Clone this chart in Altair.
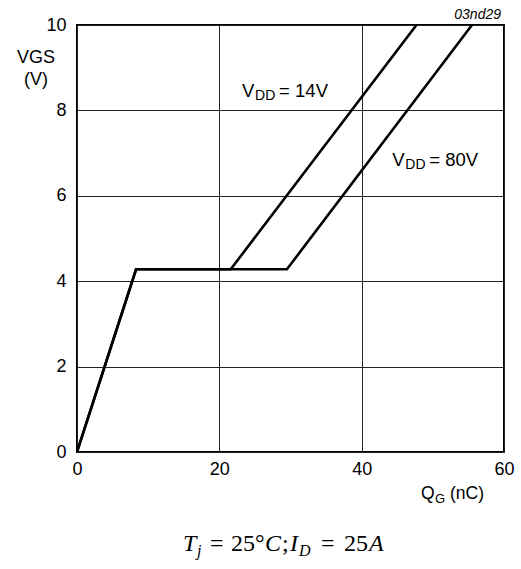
import altair as alt
import pandas as pd

# ---- data ----
qg_14 = [0, 8.3, 21.6, 47.7]
vgs_14 = [0, 4.28, 4.28, 10]
qg_80 = [0, 8.3, 29.5, 55.5]
vgs_80 = [0, 4.28, 4.28, 10]
series_names = ["VDD = 14V", "VDD = 80V"]
x_ticks = [0, 20, 40, 60]
y_ticks = [0, 2, 4, 6, 8, 10]
label_main = ["= 14V", "= 80V"]
label_x = [23.2, 44.3]
label_y = [8.32, 6.70]

rows = []
for name, xs_, ys_ in [(series_names[0], qg_14, vgs_14), (series_names[1], qg_80, vgs_80)]:
    for i, (a, b) in enumerate(zip(xs_, ys_)):
        rows.append({"series": name, "order": i, "qg": a, "vgs": b})
df = pd.DataFrame(rows)
lab = pd.DataFrame({"x": label_x, "y": label_y, "rest": label_main})

W, H = 427, 427
SANS = "Liberation Sans"
SERIF = "Liberation Serif"

xsc = alt.Scale(domain=[0, 60], nice=False, zero=False)
ysc = alt.Scale(domain=[0, 10], nice=False)

x_axis = alt.Axis(values=x_ticks, grid=True, gridColor="#222", gridWidth=1, ticks=False,
                  domain=False, labelFontSize=18, labelFont=SANS, labelColor="black",
                  labelPadding=8, title=None, labelFlush=False)
y_axis = alt.Axis(values=y_ticks, grid=True, gridColor="#222", gridWidth=1, ticks=False,
                  domain=False, labelFontSize=18, labelFont=SANS, labelColor="black",
                  labelPadding=11, title=None, labelFlush=False)

lines = alt.Chart(df).mark_line(color="black", strokeWidth=2.6, clip=True).encode(
    x=alt.X("qg:Q", scale=xsc, axis=x_axis),
    y=alt.Y("vgs:Q", scale=ysc, axis=y_axis),
    detail="series:N",
    order="order:Q",
)

base_lab = alt.Chart(lab)
v_txt = base_lab.mark_text(align="left", baseline="alphabetic", font=SANS, fontSize=18.5, color="black").encode(
    x=alt.X("x:Q", scale=xsc), y=alt.Y("y:Q", scale=ysc), text=alt.value("V"))
dd_txt = base_lab.mark_text(align="left", baseline="alphabetic", font=SANS, fontSize=14, color="black", dx=13, dy=3.5).encode(
    x=alt.X("x:Q", scale=xsc), y=alt.Y("y:Q", scale=ysc), text=alt.value("DD"))
rest_txt = base_lab.mark_text(align="left", baseline="alphabetic", font=SANS, fontSize=18.5, color="black", dx=37).encode(
    x=alt.X("x:Q", scale=xsc), y=alt.Y("y:Q", scale=ysc), text="rest:N")

def ptext(txt, x, y, size=16, font=SANS, style="normal", align="left", baseline="alphabetic"):
    return alt.Chart(pd.DataFrame({"t": [txt]})).mark_text(
        align=align, baseline=baseline, font=font, fontSize=size, fontStyle=style, color="black"
    ).encode(x=alt.value(x), y=alt.value(y), text="t:N")

ox, oy = 77, 25
annots = [
    ptext("VGS", 36 - ox, 58 - oy, 18, align="center", baseline="middle"),
    ptext("(V)", 36 - ox, 80 - oy, 18, align="center", baseline="middle"),
    ptext("03nd29", 501 - ox, 19 - oy, 14, style="italic", align="right"),
    ptext("Q", 421 - ox, 499 - oy, 17.5),
    ptext("G", 435 - ox, 502.5 - oy, 13),
    ptext("(nC)", 450 - ox, 499 - oy, 17.5),
    ptext("T", 183 - ox, 551 - oy, 24, SERIF, "italic"),
    ptext("j", 197 - ox, 556 - oy, 16, SERIF, "italic"),
    ptext("=", 210 - ox, 551 - oy, 24, SERIF),
    ptext("25°", 231 - ox, 551 - oy, 24, SERIF),
    ptext("C", 265 - ox, 551 - oy, 24, SERIF, "italic"),
    ptext(";", 282 - ox, 551 - oy, 24, SERIF),
    ptext("I", 290 - ox, 551 - oy, 24, SERIF, "italic"),
    ptext("D", 299 - ox, 556 - oy, 16, SERIF, "italic"),
    ptext("=", 321 - ox, 551 - oy, 24, SERIF),
    ptext("25", 344 - ox, 551 - oy, 24, SERIF),
    ptext("A", 369 - ox, 551 - oy, 24, SERIF, "italic"),
]

chart = alt.layer(lines, v_txt, dd_txt, rest_txt, *annots).properties(
    width=W, height=H,
    autosize=alt.AutoSizeParams(type="none"),
    padding={"left": ox, "top": oy, "right": 521 - ox - W, "bottom": 569 - oy - H},
    background="white",
).configure_view(stroke="black", strokeWidth=2)

chart.save("out.html", embed_options={"renderer": "svg", "actions": False})
